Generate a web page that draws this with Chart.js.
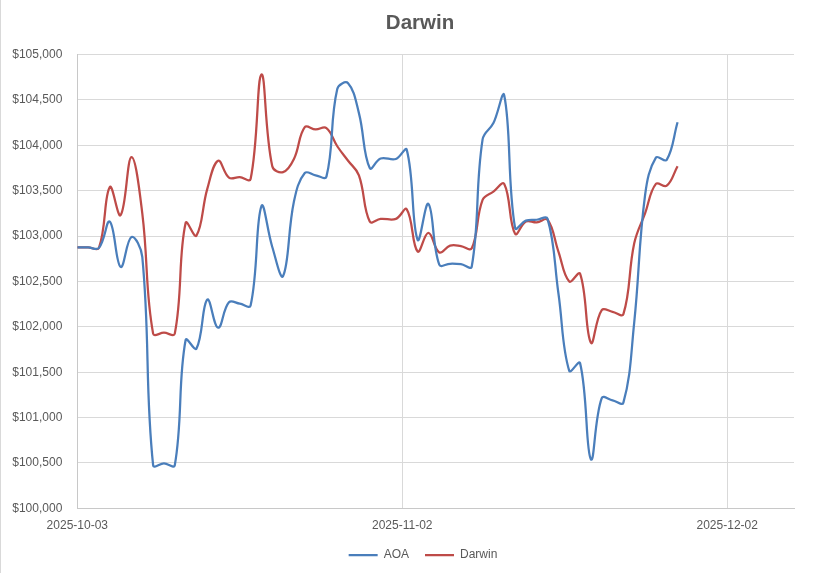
<!DOCTYPE html>
<html>
<head>
<meta charset="utf-8">
<title>Darwin</title>
<script src="https://cdn.jsdelivr.net/npm/chart.js@4.4.1/dist/chart.umd.min.js"></script>
<style>
  html, body { margin: 0; padding: 0; background: #fff; }
  #wrap { position: relative; width: 838px; height: 573px; }
  #edge { position: absolute; left: 0; top: 0; width: 1px; height: 573px; background: #d9d9d9; }
</style>
</head>
<body>
<div id="wrap"><canvas id="chart"></canvas><div id="edge"></div></div>
<script>
// axis range and tick dates
const startDate = "2025-10-03";
const axisEnd = "2025-12-08T04:00Z";
const xTickDates = ["2025-10-03", "2025-11-02", "2025-12-02"];

// from Nov 1 the points sit about half a day later on the axis
const dates = [
  "2025-10-03", "2025-10-04", "2025-10-05", "2025-10-06", "2025-10-07", "2025-10-08",
  "2025-10-09", "2025-10-10", "2025-10-11", "2025-10-12", "2025-10-13", "2025-10-14",
  "2025-10-15", "2025-10-16", "2025-10-17", "2025-10-18", "2025-10-19", "2025-10-20",
  "2025-10-21", "2025-10-22", "2025-10-23", "2025-10-24", "2025-10-25", "2025-10-26",
  "2025-10-27", "2025-10-28", "2025-10-29", "2025-10-30", "2025-10-31",
  "2025-11-01T10:00Z", "2025-11-02T10:00Z", "2025-11-03T10:00Z", "2025-11-04T10:00Z",
  "2025-11-05T10:00Z", "2025-11-06T10:00Z", "2025-11-07T10:00Z", "2025-11-08T10:00Z",
  "2025-11-09T10:00Z", "2025-11-10T10:00Z", "2025-11-11T10:00Z", "2025-11-12T10:00Z",
  "2025-11-13T10:00Z", "2025-11-14T10:00Z", "2025-11-15T10:00Z", "2025-11-16T10:00Z",
  "2025-11-17T10:00Z", "2025-11-18T10:00Z", "2025-11-19T10:00Z", "2025-11-20T10:00Z",
  "2025-11-21T10:00Z", "2025-11-22T10:00Z", "2025-11-23T10:00Z", "2025-11-24T10:00Z",
  "2025-11-25T10:00Z", "2025-11-26T10:00Z", "2025-11-27T10:00Z"
];

const aoa = [
  102875, 102875, 102870, 103160, 102660, 102990, 102770, 100475, 100495, 100475,
  101855, 101760, 102300, 101990, 102270, 102255, 102235, 103330, 102880, 102560,
  103380, 103695, 103670, 103655, 104620, 104685, 104355, 103750, 103855, 103850,
  103950, 102960, 103355, 102685, 102695, 102690, 102665, 104065, 104245, 104550,
  103090, 103170, 103180, 103190, 102370, 101515, 101600, 100540, 101215, 101190,
  101165, 102050, 103450, 103865, 103840, 104255
];

const darwin = [
  102875, 102875, 102870, 103540, 103230, 103870, 103250, 101925, 101935, 101925,
  103145, 103005, 103520, 103830, 103645, 103650, 103630, 104780, 103770, 103705,
  103850, 104200, 104175, 104190, 103990, 103830, 103670, 103160, 103190, 103190,
  103295, 102830, 103035, 102820, 102895, 102890, 102865, 103400, 103490, 103575,
  103025, 103160, 103150, 103180, 102830, 102500, 102585, 101825, 102185, 102165,
  102140, 102920, 103250, 103575, 103555, 103770
];

const yMin = 100000;
const yMax = 105000;
const yStep = 500;

const FONT = '"Liberation Sans", Arial, sans-serif';
const TEXT = "#595959";
const GRID = "#D9D9D9";

const dayMs = 86400000;
function dayOf(s) {
    return (Date.parse(s) - Date.parse(startDate)) / dayMs;
}
function dateLabel(v) {
    return new Date(Date.parse(startDate) + v * dayMs).toISOString().slice(0, 10);
}
function toPoints(values) {
    return values.map((v, i) => ({ x: dayOf(dates[i]), y: v }));
}

// title and legend are centred over the plot area, not the whole canvas
const nudge = {
    id: "nudge",
    afterLayout(chart) {
        chart.titleBlock.left = 46;
        chart.legend.left = 52;
        chart.legend.top -= 10.7;
        chart.legend.bottom -= 10.7;
    }
};

const ctx = document.getElementById("chart").getContext("2d");
const chart = new Chart(ctx, {
    type: "line",
    data: {
        datasets: [
            {
                label: "AOA",
                data: toPoints(aoa),
                borderColor: "#4A7EBB",
                backgroundColor: "#4A7EBB",
                borderWidth: 2.25,
                pointRadius: 0,
                tension: 0.4,
                fill: false
            },
            {
                label: "Darwin",
                data: toPoints(darwin),
                borderColor: "#BE4B48",
                backgroundColor: "#BE4B48",
                borderWidth: 2.25,
                pointRadius: 0,
                tension: 0.4,
                fill: false
            }
        ]
    },
    options: {
        responsive: true,
        maintainAspectRatio: false,
        animation: false,
        layout: { padding: { left: 12, right: 44, top: 10, bottom: 2 } },
        plugins: {
            title: {
                display: true,
                text: "Darwin",
                color: TEXT,
                font: { family: FONT, size: 20.5, weight: "bold" },
                padding: { top: 1, bottom: 19 }
            },
            legend: {
                position: "bottom",
                maxHeight: 27.3,
                labels: {
                    usePointStyle: true,
                    pointStyle: "line",
                    pointStyleWidth: 29,
                    padding: 16,
                    color: TEXT,
                    font: { family: FONT, size: 12 }
                }
            },
            tooltip: { enabled: false }
        },
        scales: {
            x: {
                type: "linear",
                min: 0,
                max: dayOf(axisEnd),
                afterBuildTicks: s => { s.ticks = xTickDates.map(d => ({ value: dayOf(d) })); },
                ticks: {
                    callback: v => dateLabel(v),
                    color: TEXT,
                    font: { family: FONT, size: 12 },
                    padding: 10.5,
                    maxRotation: 0,
                    autoSkip: false
                },
                grid: { color: GRID, drawTicks: false },
                border: { color: "#C8C8C8" }
            },
            y: {
                min: yMin,
                max: yMax,
                afterFit: s => { s.width = 65.3; },
                ticks: {
                    stepSize: yStep,
                    callback: v => "$" + v.toLocaleString("en-US"),
                    color: TEXT,
                    font: { family: FONT, size: 12 },
                    padding: 15
                },
                grid: { color: GRID, drawTicks: false },
                border: { color: "#C8C8C8" }
            }
        }
    },
    plugins: [nudge]
});
</script>
</body>
</html>
